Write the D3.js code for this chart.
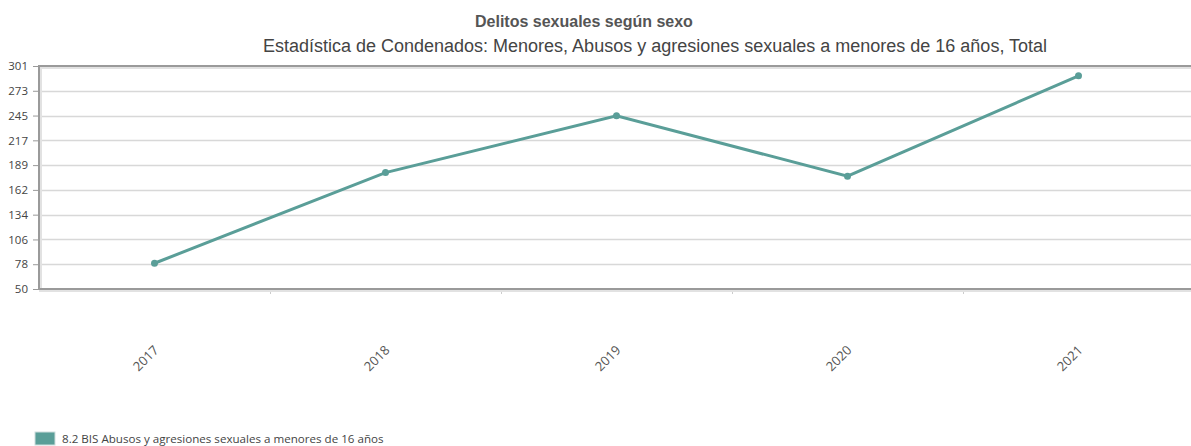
<!DOCTYPE html>
<html lang="es">
<head>
    <meta charset="UTF-8">
    <title>Delitos sexuales según sexo</title>
    <script src="https://d3js.org/d3.v7.min.js"></script>
    <style>
        body { margin: 0; background: #fff; }
        .title { font-family: "Liberation Sans", Arial, sans-serif; font-weight: bold; font-size: 16px; fill: #555; }
        .subtitle { font-family: "Liberation Sans", Arial, sans-serif; font-size: 18px; fill: #444; }
        .tick text { font-family: "Open Sans", sans-serif; fill: #444; }
        .legend { font-family: "Open Sans", sans-serif; font-size: 11.6px; fill: #444; }
    </style>
</head>
<body>
<svg id="svg" width="1191" height="446"></svg>

<script>

// data
let years = ['2017', '2018', '2019', '2020', '2021'];
let values = [79, 181, 245, 177, 290];
let seriesName = '8.2 BIS Abusos y agresiones sexuales a menores de 16 años';
let yMin = 50, yMax = 301;

let svg = d3.select('#svg');
let margin = {left: 39, top: 66, bottom: 289};
let right = 39 + 231 * 5;

let x = d3.scaleBand().domain(years).range([margin.left, right]);
let y = d3.scaleLinear().domain([yMin, yMax]).range([margin.bottom, margin.top]);

// ten evenly spaced ticks, rounded labels
let yTicks = d3.range(10).map(i => yMin + i * (yMax - yMin) / 9);

// gridlines
svg.append('g')
    .selectAll('line')
    .data(yTicks)
    .enter()
    .append('line')
    .attr('x1', margin.left)
    .attr('x2', right)
    .attr('y1', d => Math.round(y(d)) + 0.5)
    .attr('y2', d => Math.round(y(d)) + 0.5)
    .attr('stroke', '#d8d8d8')
    .attr('stroke-width', 1.5);

// y axis ticks + labels
let yAxis = svg.append('g')
    .attr('transform', `translate(${margin.left},0)`)
    .call(d3.axisLeft(y).tickValues(yTicks).tickFormat(d => Math.round(d)).tickSize(6).tickPadding(5));
yAxis.select('.domain').remove();
yAxis.selectAll('.tick line').attr('stroke', '#999');
yAxis.selectAll('.tick text').attr('font-size', 11.5);

// small marks at band edges under the frame
svg.append('g')
    .selectAll('line')
    .data(years.slice(1))
    .enter()
    .append('line')
    .attr('x1', d => x(d) + 0.5)
    .attr('x2', d => x(d) + 0.5)
    .attr('y1', margin.bottom)
    .attr('y2', margin.bottom + 5)
    .attr('stroke', '#ccc');

svg.append('g')
    .selectAll('text')
    .data(years)
    .enter()
    .append('text')
    .attr('transform', d => `translate(${x(d) + x.bandwidth() / 2 + 5},${margin.bottom + 62}) rotate(-45)`)
    .attr('text-anchor', 'end')
    .attr('font-family', '"Open Sans", sans-serif')
    .attr('font-size', 13)
    .attr('fill', '#555')
    .text(d => d);

// frame with soft shadow
let frame = svg.append('g');
frame.append('path')
    .attr('d', `M${right},${margin.top + 1.5} H${margin.left + 1.5} V${margin.bottom + 1.5} H${right}`)
    .attr('fill', 'none')
    .attr('stroke', '#e2e2e2')
    .attr('stroke-width', 3);
frame.append('path')
    .attr('d', `M${right},${margin.top} H${margin.left} V${margin.bottom} H${right}`)
    .attr('fill', 'none')
    .attr('stroke', '#9a9a9a')
    .attr('stroke-width', 2);

// series line
let line = d3.line()
    .x((d, i) => x(years[i]) + x.bandwidth() / 2)
    .y(d => y(d));

svg.append('path')
    .datum(values)
    .attr('d', line)
    .attr('fill', 'none')
    .attr('stroke', '#5a9e98')
    .attr('stroke-width', 3);

svg.append('g')
    .selectAll('circle')
    .data(values)
    .enter()
    .append('circle')
    .attr('cx', (d, i) => x(years[i]) + x.bandwidth() / 2)
    .attr('cy', d => y(d))
    .attr('r', 3.5)
    .attr('fill', '#5a9e98');

// titles
svg.append('text')
    .attr('class', 'title')
    .attr('x', 475)
    .attr('y', 27)
    .text('Delitos sexuales según sexo');
svg.append('text')
    .attr('class', 'subtitle')
    .attr('x', 655)
    .attr('y', 52)
    .attr('text-anchor', 'middle')
    .text('Estadística de Condenados: Menores, Abusos y agresiones sexuales a menores de 16 años, Total');

// legend
svg.append('rect')
    .attr('x', 35)
    .attr('y', 432)
    .attr('width', 20)
    .attr('height', 13)
    .attr('fill', '#5a9e98')
    .attr('stroke', '#cfdedd');
svg.append('text')
    .attr('class', 'legend')
    .attr('x', 62)
    .attr('y', 443)
    .text(seriesName);

</script>
</body>
</html>
